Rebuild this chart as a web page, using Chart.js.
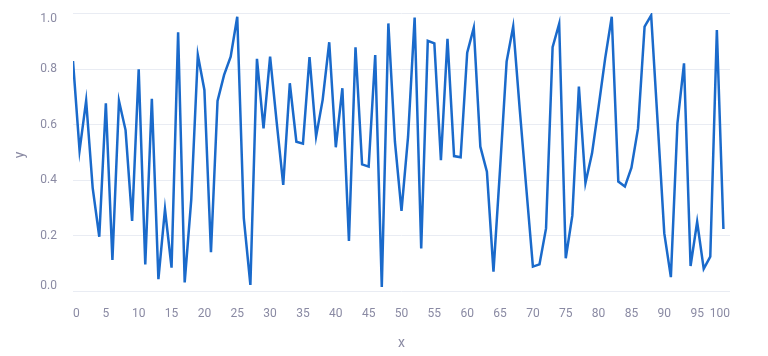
<!DOCTYPE html>
<html>
<head>
<meta charset="utf-8">
<script src="https://cdn.jsdelivr.net/npm/chart.js@4/dist/chart.umd.min.js"></script>
<style>
  html, body { margin: 0; padding: 0; background: #ffffff; }
  #wrap { width: 768px; height: 356px; position: relative; }
</style>
</head>
<body>
<div id="wrap"><canvas id="c" width="768" height="356"></canvas></div>
<script>
const xValues = [0,1,2,3,4,5,6,7,8,9,10,11,12,13,14,15,16,17,18,19,20,21,22,23,24,25,26,27,28,29,30,31,32,33,34,35,36,37,38,39,40,41,42,43,44,45,46,47,48,49,50,51,52,53,54,55,56,57,58,59,60,61,62,63,64,65,66,67,68,69,70,71,72,73,74,75,76,77,78,79,80,81,82,83,84,85,86,87,88,89,90,91,92,93,94,95,96,97,98,99];
const yValues = [
  0.830,0.507,0.687,0.371,0.196,0.678,0.112,0.686,0.581,0.253,
  0.800,0.096,0.694,0.043,0.295,0.084,0.934,0.031,0.330,0.852,
  0.726,0.140,0.686,0.780,0.846,0.990,0.262,0.022,0.838,0.587,
  0.846,0.610,0.383,0.750,0.539,0.532,0.844,0.558,0.690,0.898,
  0.519,0.732,0.181,0.880,0.457,0.449,0.852,0.015,0.966,0.539,
  0.289,0.557,0.987,0.154,0.903,0.894,0.472,0.910,0.487,0.483,
  0.860,0.950,0.521,0.431,0.070,0.440,0.828,0.955,0.655,0.370,
  0.088,0.096,0.226,0.880,0.965,0.118,0.272,0.738,0.390,0.497,
  0.665,0.840,0.990,0.395,0.377,0.445,0.587,0.954,0.995,0.604,
  0.208,0.050,0.605,0.822,0.090,0.250,0.080,0.124,0.942,0.224
];
const xTicks = [0,5,10,15,20,25,30,35,40,45,50,55,60,65,70,75,80,85,90,95,100];
const yTicks = [0,0.2,0.4,0.6,0.8,1.0];
const xTitle = 'x';
const yTitle = 'y';

const points = xValues.map((x, i) => ({ x: x, y: yValues[i] }));
const fontFamily = "'Roboto', sans-serif";
const textColor = '#8a8aa3';
const gridColor = '#e9ecf3';

new Chart(document.getElementById('c'), {
  type: 'line',
  data: {
    datasets: [{
      data: points,
      borderColor: '#1a6acb',
      borderWidth: 2.5,
      pointRadius: 0,
      pointHoverRadius: 0,
      tension: 0,
      fill: false
    }]
  },
  options: {
    responsive: false,
    animation: false,
    events: [],
    layout: { padding: { left: 0, right: 38, top: 13, bottom: 0 } },
    plugins: { legend: { display: false }, tooltip: { enabled: false } },
    scales: {
      x: {
        type: 'linear',
        min: 0,
        max: 100,
        afterBuildTicks: (s) => { s.ticks = xTicks.map(v => ({ value: v })); },
        afterFit: (s) => { s.height = 59; },
        grid: { display: false, drawTicks: false },
        border: { display: false },
        ticks: {
          padding: 10,
          align: 'inner',
          color: textColor,
          font: { family: fontFamily, size: 12 },
          maxRotation: 0,
          autoSkip: false,
          callback: (v) => String(v)
        },
        title: {
          display: true,
          text: xTitle,
          color: textColor,
          font: { family: fontFamily, size: 14 },
          padding: { top: 4, bottom: 4 }
        }
      },
      y: {
        type: 'linear',
        min: -0.02166,
        max: 1.00361,
        afterBuildTicks: (s) => { s.ticks = yTicks.map(v => ({ value: v })); },
        afterFit: (s) => { s.width = 73; },
        grid: { color: gridColor, lineWidth: 1, drawTicks: true, tickLength: 16, tickColor: 'rgba(0,0,0,0)' },
        border: { display: false },
        ticks: {
          padding: 0,
          color: textColor,
          font: { family: fontFamily, size: 12, lineHeight: 0.9 },
          callback: (v) => {
            const t = v.toFixed(1);
            if (v === yTicks[0]) return [t, ''];
            if (v === yTicks[yTicks.length - 1]) return ['', t];
            return t;
          }
        },
        title: {
          display: true,
          text: yTitle,
          color: textColor,
          font: { family: fontFamily, size: 14 },
          padding: { top: 12, bottom: 0 }
        }
      }
    }
  }
});
</script>
</body>
</html>
